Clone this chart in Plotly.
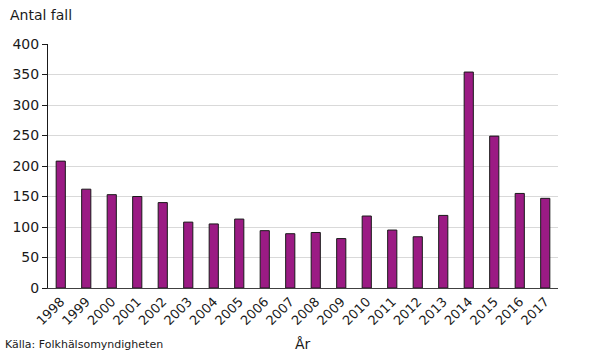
import plotly.graph_objects as go

years = [str(y) for y in range(1998, 2018)]
cases = [208, 162, 153, 150, 140, 108, 105, 113, 94, 89, 91, 81, 118, 95, 84, 119, 354, 249, 155, 147]

fig = go.Figure()
fig.add_trace(go.Bar(
    x=years, y=cases,
    marker=dict(color="#9B1B84", line=dict(color="#1a1a1a", width=1)),
))

font = "DejaVu Sans, Verdana, sans-serif"
L, R, T, B = 48, 32, 44, 66
W, H = 590, 354
pw, ph = W - L - R, H - T - B


def px(x):
    return (x - L) / pw


def py(y):
    return 1 - (y - T) / ph


fig.update_layout(
    width=W, height=H,
    margin=dict(l=L, r=R, t=T, b=B),
    plot_bgcolor="white", paper_bgcolor="white",
    bargap=0.64,
    showlegend=False,
    font=dict(family=font, color="#1a1a1a"),
    xaxis=dict(
        type="category",
        tickangle=-45,
        tickfont=dict(size=13, family=font),
        showline=True, linecolor="#404040", linewidth=1,
        ticks="", showgrid=False,
    ),
    yaxis=dict(
        range=[0, 400], dtick=50,
        tickfont=dict(size=14, family=font),
        showline=True, linecolor="#1a1a1a", linewidth=1,
        ticks="outside", ticklen=5, tickcolor="#1a1a1a",
        showgrid=True, gridcolor="#d9d9d9", gridwidth=1,
        zeroline=False,
    ),
    annotations=[
        dict(text="Antal fall", x=px(8), y=py(15), xref="paper", yref="paper", showarrow=False,
             font=dict(size=14, family=font), xanchor="left", yanchor="middle"),
        dict(text="År", x=px(303), y=py(344), xref="paper", yref="paper", showarrow=False,
             font=dict(size=14, family=font), xanchor="center", yanchor="middle"),
        dict(text="Källa: Folkhälsomyndigheten", x=px(3), y=py(344), xref="paper", yref="paper",
             showarrow=False, font=dict(size=11, family=font), xanchor="left", yanchor="middle"),
    ],
)

fig.write_html("out.html")
